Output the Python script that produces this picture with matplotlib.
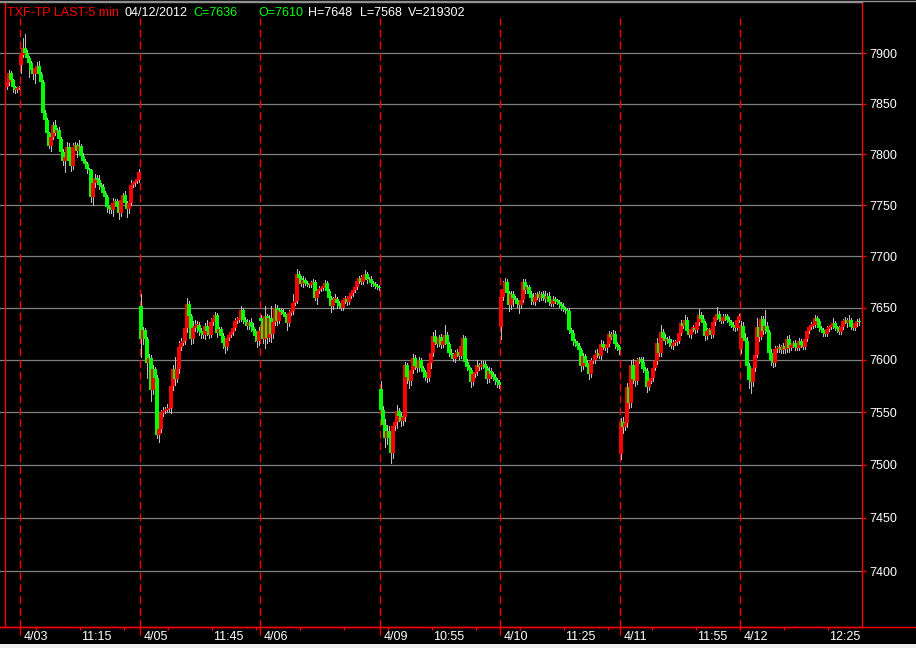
import numpy as np
import matplotlib
matplotlib.use("Agg")
import matplotlib.pyplot as plt
from matplotlib.transforms import blended_transform_factory, ScaledTranslation
from matplotlib.lines import Line2D
from matplotlib.patches import Rectangle
from matplotlib.ticker import FixedLocator, NullFormatter

plt.rcParams['font.family'] = ['Liberation Sans', 'DejaVu Sans']

# ---------------- data ----------------
day_labels = ["4/02", "4/03", "4/05", "4/06", "4/09", "4/10", "4/11", "4/12"]
day_open = [7866, 7888, 7652, 7640, 7572, 7632, 7510, 7610]

close_0402 = [7871, 7880, 7873, 7866, 7863, 7865, 7866]
close_0403 = [7898, 7905, 7900, 7895, 7890, 7883, 7879, 7885, 7887, 7879,
              7871, 7841, 7834, 7821, 7808, 7817, 7829, 7821, 7824, 7815,
              7802, 7793, 7797, 7807, 7793, 7788, 7807, 7809, 7803, 7808,
              7798, 7793, 7790, 7785, 7784, 7758, 7772, 7777, 7775, 7770,
              7768, 7762, 7758, 7748, 7746, 7745, 7752, 7754, 7748, 7742,
              7755, 7760, 7752, 7746, 7752, 7770, 7772, 7774, 7775, 7782]
close_0405 = [7620, 7629, 7620, 7597, 7602, 7571, 7591, 7583, 7528, 7534,
              7549, 7551, 7552, 7553, 7554, 7575, 7591, 7582, 7591, 7612,
              7616, 7618, 7631, 7654, 7642, 7620, 7631, 7633, 7634, 7628,
              7626, 7624, 7633, 7628, 7624, 7636, 7639, 7643, 7626, 7630,
              7623, 7616, 7612, 7621, 7624, 7627, 7631, 7637, 7638, 7640,
              7648, 7638, 7636, 7633, 7636, 7632, 7628, 7623, 7618, 7628]
close_0406 = [7637, 7620, 7642, 7621, 7640, 7625, 7636, 7650, 7637, 7648,
              7646, 7644, 7641, 7635, 7645, 7647, 7655, 7657, 7683, 7679,
              7673, 7677, 7674, 7673, 7672, 7674, 7675, 7660, 7666, 7668,
              7669, 7671, 7674, 7666, 7660, 7652, 7658, 7659, 7655, 7652,
              7650, 7658, 7659, 7656, 7662, 7664, 7667, 7670, 7676, 7679,
              7675, 7680, 7683, 7677, 7678, 7674, 7673, 7671, 7670, 7669]
close_0409 = [7552, 7538, 7525, 7532, 7525, 7511, 7537, 7541, 7551, 7546,
              7542, 7545, 7595, 7584, 7580, 7590, 7602, 7594, 7592, 7600,
              7592, 7588, 7584, 7583, 7597, 7607, 7623, 7617, 7615, 7622,
              7614, 7618, 7624, 7615, 7607, 7605, 7601, 7606, 7608, 7604,
              7613, 7621, 7598, 7593, 7590, 7579, 7586, 7588, 7595, 7593,
              7595, 7596, 7592, 7582, 7589, 7586, 7584, 7581, 7579, 7576]
close_0410 = [7661, 7668, 7675, 7664, 7653, 7663, 7660, 7658, 7654, 7653,
              7658, 7675, 7667, 7670, 7663, 7660, 7656, 7661, 7663, 7660,
              7663, 7660, 7659, 7662, 7656, 7654, 7659, 7657, 7656, 7654,
              7652, 7649, 7648, 7647, 7629, 7626, 7618, 7616, 7613, 7609,
              7594, 7604, 7597, 7593, 7586, 7599, 7600, 7605, 7607, 7604,
              7615, 7612, 7611, 7615, 7625, 7622, 7625, 7615, 7612, 7609]
close_0411 = [7541, 7536, 7540, 7574, 7559, 7595, 7582, 7580, 7599, 7601,
              7598, 7591, 7589, 7574, 7580, 7583, 7592, 7599, 7616, 7607,
              7627, 7621, 7618, 7620, 7616, 7613, 7616, 7617, 7618, 7626,
              7635, 7633, 7638, 7628, 7624, 7630, 7631, 7629, 7636, 7643,
              7639, 7635, 7623, 7628, 7629, 7624, 7636, 7641, 7644, 7639,
              7637, 7641, 7642, 7638, 7636, 7634, 7632, 7631, 7638, 7642]
close_0412 = [7633, 7621, 7618, 7594, 7581, 7579, 7592, 7605, 7632, 7622,
              7639, 7628, 7633, 7627, 7607, 7600, 7597, 7610, 7611, 7612,
              7609, 7613, 7610, 7620, 7611, 7614, 7616, 7612, 7611, 7618,
              7614, 7612, 7620, 7628, 7632, 7633, 7634, 7640, 7637, 7631,
              7629, 7626, 7625, 7630, 7632, 7633, 7635, 7631, 7630, 7627,
              7632, 7637, 7638, 7635, 7638, 7632, 7631, 7635, 7637, 7636]

up_0402 = [2, 3, 2, 1, 1, 1, 1]
dn_0402 = [2, 3, 4, 5, 3, 2, 1]
up_0403 = [0, 10, 14, 3, 2, 2, 1, 2, 4, 5, 2, 2, 3, 2, 1, 2, 3, 5, 2, 3,
           2, 3, 2, 5, 4, 2, 4, 3, 2, 6, 2, 3, 2, 2, 1, 1, 2, 3, 2, 4,
           2, 3, 2, 2, 1, 2, 5, 2, 2, 3, 2, 2, 4, 2, 2, 5, 2, 1, 3, 3]
dn_0403 = [8, 2, 4, 1, 14, 3, 5, 9, 2, 3, 4, 3, 2, 5, 2, 5, 2, 2, 3, 4,
           3, 4, 11, 3, 2, 5, 3, 2, 6, 2, 3, 2, 2, 4, 2, 5, 8, 4, 2, 4,
           3, 2, 3, 5, 4, 3, 6, 3, 2, 6, 3, 2, 5, 8, 4, 2, 2, 3, 2, 2]
up_0405 = [11, 3, 2, 2, 4, 3, 4, 2, 2, 2, 3, 4, 3, 5, 3, 4, 4, 12, 8, 6,
           5, 4, 5, 6, 3, 2, 6, 5, 3, 2, 3, 4, 2, 5, 2, 4, 3, 3, 2, 2,
           2, 3, 2, 3, 2, 3, 2, 3, 3, 4, 4, 2, 3, 3, 2, 4, 3, 2, 3, 4]
dn_0405 = [17, 5, 8, 14, 6, 10, 4, 6, 3, 6, 3, 3, 2, 2, 3, 5, 4, 6, 3, 4,
           3, 2, 3, 4, 3, 5, 4, 3, 6, 4, 5, 3, 4, 4, 3, 2, 2, 3, 4, 2,
           6, 5, 5, 3, 2, 2, 3, 2, 2, 2, 3, 3, 2, 3, 3, 4, 4, 5, 6, 4]
up_0406 = [3, 4, 10, 2, 3, 12, 5, 4, 3, 2, 2, 3, 2, 2, 3, 2, 8, 3, 5, 3,
           2, 4, 2, 2, 1, 2, 3, 2, 2, 3, 2, 2, 3, 2, 2, 2, 3, 4, 2, 2,
           2, 2, 3, 2, 2, 3, 2, 2, 3, 2, 3, 2, 4, 2, 2, 3, 2, 2, 2, 2]
dn_0406 = [6, 4, 9, 5, 3, 8, 4, 2, 3, 2, 2, 2, 3, 6, 2, 2, 3, 2, 2, 2,
           2, 3, 2, 2, 2, 2, 2, 2, 6, 2, 2, 2, 2, 2, 3, 6, 3, 2, 5, 2,
           2, 2, 3, 3, 2, 2, 2, 2, 2, 2, 2, 2, 2, 3, 2, 3, 2, 2, 2, 2]
up_0409 = [8, 4, 5, 6, 5, 3, 4, 5, 6, 3, 3, 4, 3, 2, 3, 7, 4, 3, 5, 3,
           2, 2, 2, 3, 3, 5, 4, 6, 3, 2, 3, 4, 10, 3, 2, 3, 2, 3, 2, 3,
           4, 3, 2, 3, 2, 2, 2, 3, 5, 2, 4, 3, 3, 2, 4, 3, 2, 2, 2, 2]
dn_0409 = [10, 6, 8, 5, 9, 9, 5, 4, 6, 4, 5, 4, 3, 6, 7, 4, 3, 3, 4, 3,
           3, 4, 3, 4, 3, 5, 3, 2, 3, 2, 3, 2, 3, 4, 3, 2, 2, 3, 2, 3,
           2, 3, 3, 3, 2, 5, 3, 2, 3, 3, 2, 3, 2, 4, 3, 3, 3, 4, 5, 3]
up_0410 = [5, 8, 4, 3, 2, 3, 3, 2, 2, 2, 2, 3, 3, 2, 2, 3, 4, 3, 2, 3,
           2, 3, 6, 2, 3, 2, 3, 2, 2, 2, 2, 3, 2, 2, 3, 2, 3, 2, 2, 3,
           2, 3, 2, 3, 2, 3, 2, 4, 3, 2, 4, 3, 2, 3, 3, 2, 4, 3, 2, 2]
dn_0410 = [12, 3, 3, 8, 6, 4, 8, 3, 3, 8, 3, 2, 3, 2, 2, 6, 2, 3, 2, 3,
           2, 2, 3, 2, 3, 2, 2, 2, 2, 3, 4, 2, 3, 2, 3, 2, 4, 3, 2, 4,
           5, 3, 3, 2, 4, 2, 2, 3, 2, 2, 3, 2, 2, 3, 2, 2, 2, 4, 3, 3]
up_0411 = [3, 4, 3, 4, 6, 5, 6, 4, 3, 2, 2, 5, 2, 3, 2, 3, 2, 4, 5, 3,
           7, 3, 4, 2, 3, 4, 3, 2, 2, 3, 3, 2, 5, 3, 2, 2, 3, 2, 3, 6,
           3, 4, 2, 3, 2, 3, 3, 2, 7, 3, 2, 3, 2, 2, 3, 2, 2, 2, 3, 2]
dn_0411 = [5, 6, 3, 4, 5, 4, 4, 5, 3, 2, 3, 3, 4, 5, 3, 2, 3, 2, 3, 3,
           3, 2, 3, 2, 3, 2, 3, 2, 3, 2, 2, 2, 2, 3, 2, 3, 2, 3, 2, 2,
           2, 2, 4, 3, 2, 3, 2, 2, 2, 2, 2, 2, 3, 2, 2, 2, 3, 3, 2, 2]
up_0412 = [4, 3, 5, 4, 3, 2, 3, 3, 8, 3, 3, 3, 15, 3, 2, 3, 2, 3, 2, 3,
           2, 3, 3, 3, 4, 2, 2, 3, 2, 3, 2, 2, 3, 2, 2, 3, 2, 3, 2, 2,
           2, 2, 2, 3, 2, 2, 5, 2, 2, 3, 4, 2, 3, 2, 5, 2, 3, 2, 2, 3]
dn_0412 = [3, 2, 3, 6, 8, 11, 4, 3, 2, 4, 2, 3, 2, 3, 3, 5, 4, 3, 2, 3,
           2, 2, 3, 2, 3, 2, 2, 3, 2, 2, 2, 2, 2, 2, 2, 2, 2, 2, 2, 3,
           2, 3, 2, 2, 2, 2, 2, 2, 3, 2, 2, 2, 2, 3, 2, 2, 2, 2, 2, 2]

closes = [close_0402, close_0403, close_0405, close_0406, close_0409,
          close_0410, close_0411, close_0412]
ups = [up_0402, up_0403, up_0405, up_0406, up_0409, up_0410, up_0411, up_0412]
dns = [dn_0402, dn_0403, dn_0405, dn_0406, dn_0409, dn_0410, dn_0411, dn_0412]

price_ticks = [7400, 7450, 7500, 7550, 7600, 7650, 7700, 7750, 7800, 7850, 7900]
time_labels = [("4/03", "11:15"), ("4/05", "11:45"), ("4/09", "10:55"),
               ("4/10", "11:25"), ("4/11", "11:55"), ("4/12", "12:25")]
header = [("TXF-TP LAST-5 min", "#FF0000"), ("04/12/2012", "#FFFFFF"),
          ("C=7636", "#00FF00"), ("O=7610", "#00FF00"), ("H=7648", "#FFFFFF"),
          ("L=7568", "#FFFFFF"), ("V=219302", "#FFFFFF")]

# ---------------- build OHLC ----------------
BARS = 60
xs, op, cl, hi, lo = [], [], [], [], []
for d, (c_list, u_list, d_list) in enumerate(zip(closes, ups, dns)):
    start = -len(c_list) if d == 0 else BARS * (d - 1)
    prev = day_open[d]
    for k, c in enumerate(c_list):
        o = prev
        xs.append(start + k)
        op.append(o)
        cl.append(c)
        hi.append(max(o, c) + u_list[k])
        lo.append(min(o, c) - d_list[k])
        prev = c
xs = np.array(xs, float)
op = np.array(op, float)
cl = np.array(cl, float)
hi = np.array(hi, float)
lo = np.array(lo, float)

# ---------------- figure ----------------
W, H = 916, 648
fig = plt.figure(figsize=(W / 100, H / 100), dpi=100, facecolor="black")
ax_top, ax_bot, ax_right = 2, 627, 862
ax = fig.add_axes([0, (H - ax_bot) / H, ax_right / W, (ax_bot - ax_top) / H])
ax.set_facecolor("black")
ax.set_yscale("log")
ax.set_ylim(7347.9, 7951.3)
ax.set_xlim(-10, 421)

for p in price_ticks:
    ax.axhline(p, color="#808080", lw=0.9, zorder=1)

# day separators
ymax_frac = (ax_bot - 18) / (ax_bot - ax_top)
for d in range(1, len(day_labels)):
    ax.axvline(BARS * (d - 1), ymin=0, ymax=ymax_frac, color="#FF0000", lw=1.0,
               dashes=(5.5, 3), zorder=2)
ax.axvline(-len(close_0402) - 0.5, color="#FF0000", lw=1.0, zorder=2)

# candles
colors = np.where(cl >= op, "#FF0000", "#00FF00")
ax.vlines(xs + 0.5, lo, hi, color="#C0C0C0", lw=0.72, zorder=3,
          antialiased=False)
bottoms = np.minimum(op, cl)
heights = np.maximum(np.abs(cl - op), 1.2)
ax.bar(xs + 0.5, heights, bottom=bottoms, width=1.6, color=colors,
       linewidth=0, zorder=4, antialiased=False)

# spines
ax.spines["left"].set_visible(False)
ax.spines["right"].set_color("#FF0000")
ax.spines["bottom"].set_color("#FF0000")
ax.spines["top"].set_color("#909090")
for s in ["right", "bottom", "top"]:
    ax.spines[s].set_linewidth(1.0)

# y ticks on right
ax.yaxis.tick_right()
ax.yaxis.set_major_locator(FixedLocator(price_ticks))
ax.yaxis.set_minor_locator(FixedLocator([]))
ax.yaxis.set_minor_formatter(NullFormatter())
ax.set_yticklabels([str(p) for p in price_ticks])
ax.tick_params(axis="y", which="major", direction="out", length=3, width=1,
               color="#FF0000", labelcolor="white", labelsize=9, pad=2)

# x ticks
tick_pos = np.arange(8, 421, 22)
ax.xaxis.set_major_locator(FixedLocator(tick_pos))
ax.xaxis.set_major_formatter(NullFormatter())
ax.xaxis.set_minor_locator(FixedLocator([BARS * (d - 1) for d in range(1, len(day_labels))]))
ax.xaxis.set_minor_formatter(NullFormatter())
ax.tick_params(axis="x", which="major", direction="out", length=2.5, width=1,
               color="#FF0000")
ax.tick_params(axis="x", which="minor", direction="out", length=5.5, width=1,
               color="#FF0000")

base = blended_transform_factory(ax.transData, ax.transAxes)
ylab = -10 / (ax_bot - ax_top)
for d in range(1, len(day_labels)):
    tr = base + ScaledTranslation(4 / 100, 0, fig.dpi_scale_trans)
    ax.text(BARS * (d - 1), ylab, day_labels[d], transform=tr, color="white",
            fontsize=9, ha="left", va="center", clip_on=False)
for day, t in time_labels:
    d = day_labels.index(day)
    hh, mm = map(int, t.split(":"))
    pos = BARS * (d - 1) + ((hh * 60 + mm) - (8 * 60 + 45)) / 5
    tr = base + ScaledTranslation(1 / 100, 0, fig.dpi_scale_trans)
    ax.text(pos, ylab, t, transform=tr, color="white", fontsize=9,
            ha="left", va="center", clip_on=False)

# bottom red line across the full width and light strip at the bottom
fig.add_artist(Line2D([0, 1], [(H - ax_bot) / H] * 2, color="#FF0000", lw=1.0,
                      transform=fig.transFigure))
fig.add_artist(Line2D([0, 1], [(H - 1) / H] * 2, color="#909090", lw=1.0,
                      transform=fig.transFigure))
fig.add_artist(Rectangle((0, 0), 1, 4 / H, transform=fig.transFigure,
                         facecolor="#EEEEEE", edgecolor="none"))

# header
hx = [7, 124, 193, 258, 308, 360, 408]
for (s, col), x in zip(header, hx):
    fig.text(x / W, 1 - 16 / H, s, color=col, fontsize=9, ha="left", va="baseline")

fig.savefig("out.png", dpi=100, facecolor="black")
